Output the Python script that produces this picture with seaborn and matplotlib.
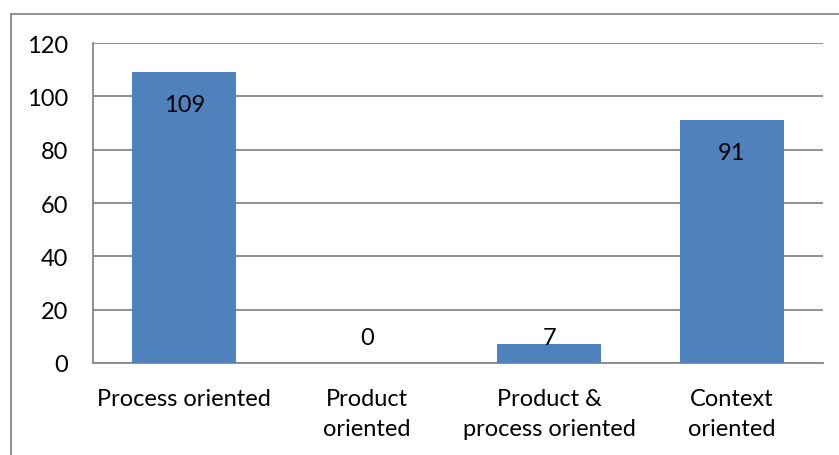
import numpy as np
import pandas as pd
import matplotlib
matplotlib.use("Agg")
import matplotlib.pyplot as plt
import matplotlib.patches as mpatches
import seaborn as sns

# Data
categories = ["Process oriented", "Product\noriented",
              "Product &\nprocess oriented", "Context\noriented"]
counts = [109, 0, 7, 91]
y_ticks = [0, 20, 40, 60, 80, 100, 120]

df = pd.DataFrame({"Category": categories, "Count": counts})

sns.set_theme(style="white")
plt.rcParams["font.family"] = ["Lato", "DejaVu Sans"]

BAR = "#4F81BD"
GRID = "#878787"
FS = 17

fig = plt.figure(figsize=(8.39, 4.56), dpi=100)
ax = fig.add_axes([93 / 839, 1 - 364 / 456, 730 / 839, 320 / 456])

sns.barplot(data=df, x="Category", y="Count", color=BAR, width=0.57,
            saturation=1, linewidth=0, edgecolor="none", ax=ax, zorder=3)

ax.set_ylim(0, 120)
ax.set_yticks(y_ticks)
ax.yaxis.grid(True, color=GRID, linewidth=1.3, zorder=0)
ax.set_axisbelow(True)
for s in ["top", "right"]:
    ax.spines[s].set_visible(False)
for s in ["left", "bottom"]:
    ax.spines[s].set_color(GRID)
    ax.spines[s].set_linewidth(1.3)
ax.tick_params(axis="both", length=0, labelsize=FS, colors="black")
ax.tick_params(axis="y", pad=18)
ax.tick_params(axis="x", pad=18)
ax.set_xlabel("")
ax.set_ylabel("")
for lbl in ax.get_xticklabels():
    lbl.set_linespacing(1.55)

# value labels (inside end, small bars pushed up)
for i, v in enumerate(counts):
    ax.text(i, max(v - 12, 9.7), str(v), ha="center", va="center",
            fontsize=FS, color="black", zorder=4)

# chart border (left/top visible, right/bottom run off the image)
fig.patches.append(mpatches.Rectangle((11 / 839, -0.1), 1.2, 1 - 15 / 456 + 0.1,
                                      transform=fig.transFigure, fill=False,
                                      edgecolor=GRID, linewidth=1.3))

fig.savefig("out.png", dpi=100)
